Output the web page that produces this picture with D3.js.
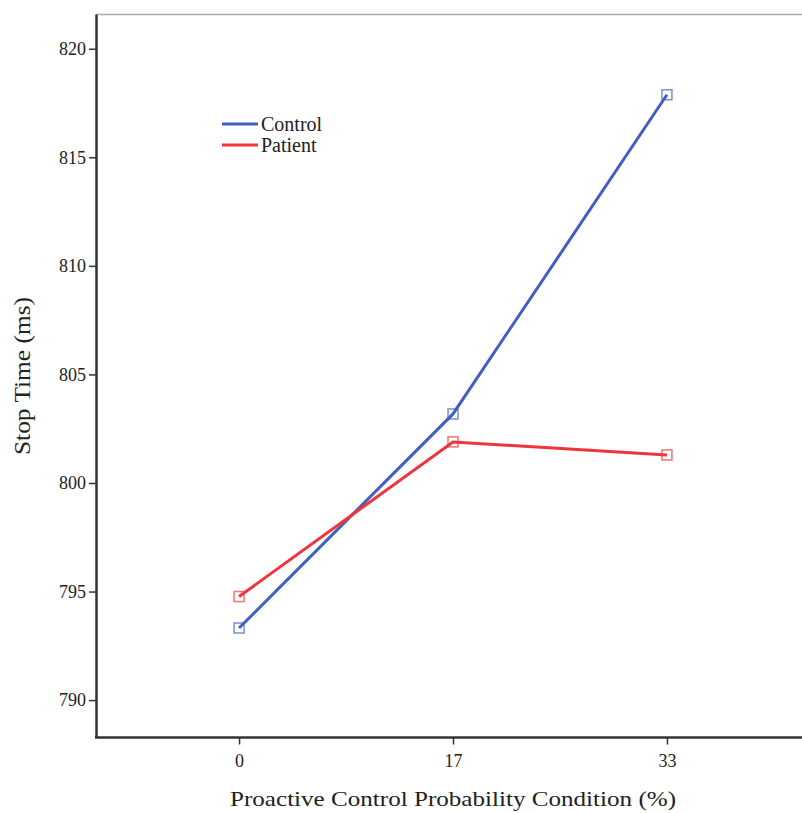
<!DOCTYPE html>
<html lang="en">
<head>
<meta charset="utf-8">
<title>Stop Time</title>
<script src="https://cdn.jsdelivr.net/npm/d3@7"></script>
<style>
  body { margin: 0; background: #fff; }
  text { font-family: "Liberation Serif", "DejaVu Serif", serif; fill: #222; }
</style>
</head>
<body>
<svg width="802" height="813"></svg>
<script>
// data
const conditions = ["0", "17", "33"];
const control = [793.32, 803.18, 817.88];
const patient = [794.77, 801.89, 801.29];
const yTicks = [790, 795, 800, 805, 810, 815, 820];
const seriesNames = ["Control", "Patient"];
const seriesColors = ["#4060bf", "#f0343c"];

const series = [control, patient].map(function (vals, i) {
  return { name: seriesNames[i], color: seriesColors[i],
           points: vals.map(function (v, j) { return { cond: conditions[j], value: v }; }) };
});

const svg = d3.select("svg");
const plotLeft = 96, plotRight = 802, plotTop = 14, plotBottom = 737;

const x = d3.scalePoint().domain(conditions).range([plotLeft + 4, plotRight + 4]).padding(0.65);
const y = d3.scaleLinear().domain([788.3, 821.6]).range([plotBottom, plotTop]);

// top frame line
svg.append("line")
  .attr("x1", plotLeft).attr("x2", plotRight).attr("y1", plotTop + 0.5).attr("y2", plotTop + 0.5)
  .attr("stroke", "#aaa").attr("stroke-width", 1.5);

// y axis
const gy = svg.append("g").attr("transform", "translate(" + plotLeft + ",0)")
  .call(d3.axisLeft(y).tickValues(yTicks).tickSize(7).tickPadding(3).tickSizeOuter(0));
gy.select(".domain").attr("stroke", "#333").attr("stroke-width", 2.5);
gy.selectAll(".tick line").attr("stroke", "#333").attr("stroke-width", 1.5);
gy.selectAll(".tick text").style("font-size", "18px").attr("fill", "#222");

// x axis
const gx = svg.append("g").attr("transform", "translate(0," + (plotBottom + 0.5) + ")")
  .call(d3.axisBottom(x).tickSize(7).tickPadding(10).tickSizeOuter(0));
gx.select(".domain").remove();
gx.selectAll(".tick line").attr("stroke", "#333").attr("stroke-width", 1.5);
gx.selectAll(".tick text").style("font-size", "18px").attr("fill", "#222");
gx.append("line")
  .attr("x1", plotLeft - 1).attr("x2", plotRight).attr("y1", 0).attr("y2", 0)
  .attr("stroke", "#333").attr("stroke-width", 2.5);

// axis titles
svg.append("text")
  .attr("transform", "translate(30,376) rotate(-90)")
  .attr("text-anchor", "middle").style("font-size", "23px")
  .attr("textLength", 158).attr("lengthAdjust", "spacingAndGlyphs")
  .text("Stop Time (ms)");
svg.append("text")
  .attr("x", 453).attr("y", 806).attr("text-anchor", "middle").style("font-size", "22px")
  .attr("textLength", 446).attr("lengthAdjust", "spacingAndGlyphs")
  .text("Proactive Control Probability Condition (%)");

// lines
const line = d3.line().x(function (d) { return x(d.cond); }).y(function (d) { return y(d.value); });

series.forEach(function (s) {
  svg.append("path").datum(s.points)
    .attr("fill", "none").attr("stroke", s.color).attr("stroke-width", 3)
    .attr("d", line);
  svg.selectAll(null).data(s.points).enter().append("rect")
    .attr("x", function (d) { return x(d.cond) - 5; })
    .attr("y", function (d) { return y(d.value) - 5; })
    .attr("width", 10).attr("height", 10)
    .attr("fill", "none").attr("stroke", s.color).attr("stroke-opacity", 0.7)
    .attr("stroke-width", 1.5);
});

// legend
const legend = svg.append("g").attr("transform", "translate(222,124)");
series.forEach(function (s, i) {
  const g = legend.append("g").attr("transform", "translate(0," + i * 21 + ")");
  g.append("line").attr("x1", 0).attr("x2", 36).attr("y1", 0).attr("y2", 0)
    .attr("stroke", s.color).attr("stroke-width", 3);
  g.append("text").attr("x", 39).attr("y", 7).style("font-size", "20px").text(s.name);
});
</script>
</body>
</html>
